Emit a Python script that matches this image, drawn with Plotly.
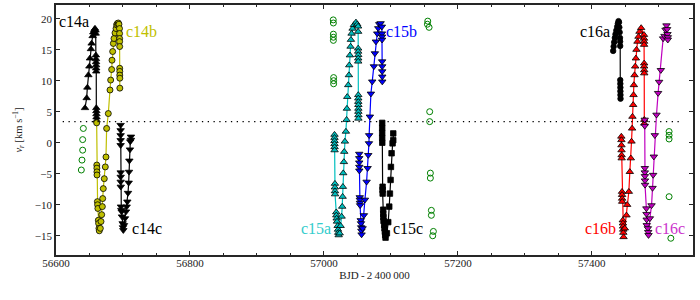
import plotly.graph_objects as go

# ---------------- data ----------------
c14a_x = [56643.3, 56645.8, 56646.8, 56648.3, 56649.8, 56650.7, 56652.2, 56653.2, 56654.7, 56655.7,
          56657.2, 56658.2, 56659.0, 56659.3, 56659.5, 56659.7, 56659.8, 56659.9, 56660.0, 56660.1,
          56660.2, 56660.3, 56660.4, 56660.5, 56660.6]
c14a_y = [5.6, 7.2, 8.9, 10.9, 12.3, 13.6, 15.1, 16.0, 17.2, 17.8,
          18.2, 18.4, 18.1, 17.6, 14.1, 13.5, 13.0, 12.5, 12.0, 11.5,
          5.6, 5.1, 4.6, 4.1, 3.6]

c14b_x = [56660.7, 56660.9, 56661.0, 56661.1, 56661.2, 56661.8, 56662.1, 56662.5, 56663.2, 56663.6,
          56664.1, 56664.6, 56666.2, 56667.2, 56668.2, 56669.2, 56669.7, 56670.6, 56672.1, 56673.6,
          56674.6, 56675.6, 56678.1, 56680.6, 56681.6, 56683.1, 56683.6, 56684.6, 56685.6, 56686.6,
          56688.1, 56689.6, 56690.5, 56691.5, 56693.0, 56694.0, 56694.8, 56694.9, 56695.0, 56695.0,
          56695.1, 56695.1, 56695.2, 56695.2, 56695.3, 56695.3]
c14b_y = [3.2, -3.6, -4.1, -4.7, -5.2, -9.5, -10.0, -10.6, -12.5, -13.0,
          -13.8, -14.2, -13.8, -12.7, -11.6, -10.3, -9.0, -7.4, -5.8, -3.9,
          -2.3, 2.3, 4.7, 8.5, 10.1, 11.8, 13.3, 14.7, 16.0, 16.8,
          17.7, 18.4, 19.0, 19.2, 19.3, 19.1, 18.4, 17.6, 16.8, 16.3,
          15.5, 12.0, 11.5, 10.9, 10.4, 8.8]

c14c_x = [56696.5, 56696.5, 56696.5, 56696.5, 56696.5, 56696.6, 56696.6, 56696.6, 56696.7, 56697.0,
          56697.5, 56698.0, 56698.5, 56699.5, 56700.0, 56700.5, 56701.5, 56703.0, 56704.5, 56705.5,
          56706.5, 56707.5, 56708.5, 56709.0, 56709.5, 56710.4, 56710.9, 56711.9, 56711.9]
c14c_y = [2.85, 2.0, 1.2, 0.4, -0.4, -4.8, -5.5, -6.3, -7.1, -10.3,
          -10.85, -11.1, -11.9, -13.0, -13.65, -14.1, -13.3, -12.2, -11.1, -10.3,
          -9.5, -8.1, -6.45, -4.7, -2.9, -1.1, 0.2, 0.45, 0.97]

c15a_x = [57015.8, 57015.8, 57015.8, 57015.8, 57015.9, 57015.9, 57016.4, 57016.4, 57016.5, 57016.6,
          57018.4, 57018.5, 57019.0, 57019.5, 57020.5, 57021.0, 57021.4, 57022.0, 57023.5, 57024.9,
          57026.4, 57027.3, 57027.9, 57028.3, 57028.8, 57029.8, 57030.3, 57031.3, 57032.8, 57033.8,
          57034.3, 57034.8, 57036.3, 57037.3, 57037.8, 57038.8, 57039.8, 57040.3, 57041.3, 57042.8,
          57044.8, 57047.8, 57049.7, 57051.0, 57051.1, 57051.1, 57051.1, 57051.2, 57051.2, 57051.2,
          57051.3, 57051.3, 57051.3, 57051.4, 57051.4, 57051.4, 57051.5, 57051.5]
c15a_y = [1.3, 0.8, 0.3, -0.2, -0.7, -1.2, -6.6, -7.2, -7.8, -8.3,
          -11.2, -11.7, -12.2, -12.7, -13.4, -14.0, -14.5, -14.9, -14.6, -13.4,
          -11.9, -10.3, -8.7, -7.1, -4.9, -3.1, -1.45, 0.2, 1.8, 3.7,
          5.5, 7.4, 9.3, 10.9, 12.5, 14.1, 15.5, 16.6, 17.6, 18.4,
          19.0, 19.4, 19.1, 18.75, 17.9, 15.2, 14.7, 14.15, 13.6, 13.1,
          7.7, 7.15, 6.6, 6.1, 5.5, 5.0, 4.45, 3.9]

c15b_x = [57052.7, 57052.7, 57052.7, 57052.8, 57052.8, 57053.5, 57053.6, 57053.8, 57054.0, 57055.0,
          57055.3, 57055.6, 57055.9, 57056.2, 57057.7, 57059.7, 57061.2, 57063.7, 57065.2, 57066.2,
          57067.2, 57067.5, 57068.6, 57070.1, 57072.1, 57074.6, 57076.1, 57077.6, 57079.6, 57081.1,
          57082.6, 57084.6, 57086.5, 57086.6, 57086.7, 57086.8, 57086.9, 57087.0, 57087.0, 57087.1,
          57087.1]
c15b_y = [-1.8, -2.5, -3.2, -3.9, -4.5, -8.8, -9.2, -9.7, -10.1, -12.5,
          -13.0, -13.65, -14.2, -14.8, -13.8, -11.7, -9.2, -6.3, -4.1, -2.0,
          -0.1, 1.2, 4.2, 7.9, 9.85, 12.3, 14.4, 16.3, 17.6, 18.45,
          19.1, 19.25, 18.7, 17.6, 17.1, 16.6, 13.1, 12.3, 11.5, 10.65,
          9.85]

c15c_x = [57087.0, 57087.0, 57087.0, 57087.0, 57087.1, 57087.6, 57087.6, 57087.7, 57088.5, 57088.6,
          57088.8, 57089.0, 57090.0, 57090.5, 57091.0, 57091.5, 57092.0, 57094.0, 57096.0, 57097.5,
          57098.5, 57099.5, 57100.0, 57101.0, 57102.5, 57103.5, 57103.5]
c15c_y = [3.2, 2.4, 1.6, 0.8, 0.0, -7.1, -7.6, -8.2, -10.8, -11.5,
          -12.0, -12.6, -13.3, -13.8, -14.35, -14.9, -15.3, -14.6, -12.8, -10.3,
          -8.2, -6.0, -3.9, -1.7, -0.1, 0.4, 1.5]

c16a_x = [57431.8, 57432.5, 57433.3, 57434.3, 57435.3, 57436.5, 57437.8, 57438.8, 57439.8, 57440.5,
          57441.0, 57441.5, 57442.0, 57442.2, 57442.3, 57442.4, 57442.5, 57442.6, 57442.6, 57442.7,
          57442.8]
c16a_y = [14.8, 15.5, 16.2, 16.9, 17.5, 18.1, 18.7, 19.2, 19.6, 19.4,
          18.6, 17.8, 16.9, 16.3, 15.6, 10.1, 9.5, 8.9, 8.3, 7.7,
          7.1]

c16b_x = [57444.0, 57444.1, 57444.2, 57444.3, 57444.4, 57444.5, 57445.0, 57445.1, 57445.2, 57445.3,
          57446.2, 57446.4, 57446.6, 57446.8, 57447.0, 57447.3, 57449.2, 57451.7, 57452.7, 57455.2,
          57456.7, 57458.2, 57459.2, 57460.1, 57460.6, 57461.7, 57462.2, 57462.7, 57463.7, 57464.7,
          57465.7, 57466.6, 57468.1, 57469.6, 57471.1, 57473.6, 57477.8, 57477.9, 57478.0, 57478.0,
          57478.1, 57478.1, 57478.2, 57478.2, 57478.3, 57478.3]
c16b_y = [1.0, 0.44, -0.4, -1.2, -2.0, -2.5, -7.9, -8.4, -9.0, -9.5,
          -12.5, -13.0, -13.5, -14.0, -14.5, -15.2, -13.8, -11.7, -10.0, -7.9,
          -4.7, -2.5, 0.2, 2.3, 4.2, 6.1, 7.7, 9.3, 10.9, 12.3,
          13.6, 15.0, 16.3, 17.1, 17.9, 18.5, 17.4, 16.8, 16.3, 15.8,
          12.8, 12.3, 11.7, 11.2, 3.7, 3.1]

c16c_x = [57478.9, 57479.0, 57479.1, 57479.1, 57479.2, 57479.3, 57479.4, 57481.4, 57481.6, 57481.8,
          57482.0, 57483.6, 57484.1, 57484.6, 57486.6, 57489.1, 57490.6, 57491.5, 57492.5, 57494.0,
          57496.5, 57498.9, 57500.4, 57503.0, 57506.4, 57508.5, 57510.0, 57511.4, 57512.4, 57512.9,
          57513.4, 57513.4]
c16c_y = [3.7, 2.7, -4.1, -4.8, -5.4, -6.1, -6.8, -10.6, -11.5, -12.4,
          -13.3, -13.8, -14.4, -14.9, -12.2, -10.1, -7.3, -5.2, -2.25, 1.2,
          4.5, 8.0, 9.8, 11.7, 16.8, 17.2, 18.2, 18.9, 18.3, 17.5,
          17.0, 16.6]

other_x = [56640.8, 56639.8, 56639.8, 56638.8, 56637.8,
           57013.9, 57014.1, 57014.1, 57014.1, 57014.1, 57014.5, 57014.5, 57014.5,
           57155.0, 57154.5, 57157.0, 57157.9, 57157.9, 57158.9, 57158.9, 57160.4, 57160.4,
           57163.4, 57162.4,
           57515.3, 57515.3, 57515.3, 57515.3, 57517.9]
other_y = [2.3, 0.5, -1.2, -2.8, -4.4,
           19.8, 19.3, 17.5, 17.0, 16.5, 10.5, 10.0, 9.5,
           19.6, 19.1, 18.6, 5.0, 3.4, -4.9, -5.7, -10.9, -11.7,
           -14.3, -15.0,
           1.8, 1.2, 0.6, -8.7, -15.4]

gamma = 3.4
gamma_span = [56610, 57530]

label_text = ["c14a", "c14b", "c14c", "c15a", "c15b", "c15c", "c16a", "c16b", "c16c"]
label_x = [56627.6, 56726.9, 56735.3, 56987.5, 57115.9, 57125.9, 57404.5, 57413.4, 57517.4]
label_y = [19.6, 17.9, -13.8, -13.8, 17.9, -13.8, 17.9, -13.8, -13.8]

x_ticks = [56600, 56800, 57000, 57200, 57400]
y_ticks = [-15, -10, -5, 0, 5, 10, 15, 20]

# ---------------- styles ----------------
YEL = "#bfbf00"
CYA = "#00bfbf"
BLU = "#0000ff"
RED = "#ff0000"
MAG = "#bf00bf"
GRN = "#008000"
FONT = "Liberation Serif"

series = [
    (c14a_x, c14a_y, "triangle-up", "black", "black", 6.5),
    (c14b_x, c14b_y, "circle", YEL, YEL, 6),
    (c14c_x, c14c_y, "triangle-down", "black", "black", 6.5),
    (c15a_x, c15a_y, "triangle-up", CYA, CYA, 6.5),
    (c15b_x, c15b_y, "triangle-down", BLU, BLU, 6.5),
    (c15c_x, c15c_y, "square", "black", "black", 5.5),
    (c16a_x, c16a_y, "circle", "black", "black", 5.5),
    (c16b_x, c16b_y, "triangle-up", RED, RED, 6.5),
    (c16c_x, c16c_y, "triangle-down", MAG, MAG, 6.5),
]
label_colors = ["black", YEL, "black", "#33cccc", BLU, "black", "black", RED, "#cc33cc"]

fig = go.Figure()

fig.add_trace(go.Scatter(
    x=other_x, y=other_y, mode="markers",
    marker=dict(symbol="circle-open", size=6, color=GRN, line=dict(width=1, color=GRN)),
    showlegend=False, hoverinfo="skip"))

for xs, ys, sym, fill, lc, sz in series:
    assert len(xs) == len(ys)
    fig.add_trace(go.Scatter(
        x=xs, y=ys, mode="lines+markers",
        line=dict(color=lc, width=1.2),
        marker=dict(symbol=sym, size=sz, color=fill, line=dict(width=0.8, color="black")),
        showlegend=False, hoverinfo="skip"))

fig.add_trace(go.Scatter(
    x=gamma_span, y=[gamma, gamma], mode="lines",
    line=dict(color="black", width=1.3, dash="1.3px,4.5px"),
    showlegend=False, hoverinfo="skip"))

for t, x, y, c in zip(label_text, label_x, label_y, label_colors):
    fig.add_annotation(x=x, y=y, text=t, showarrow=False, xanchor="center", yanchor="middle",
                       font=dict(family=FONT, size=16, color=c))

axis_common = dict(showline=True, mirror="ticks", linecolor="#262626", linewidth=1.6,
                   ticks="inside", tickcolor="#262626", tickwidth=1, ticklen=4,
                   showgrid=False, zeroline=False, automargin=False,
                   tickfont=dict(family=FONT, size=11, color="#222"))

fig.update_xaxes(range=[56600, 57551], tickvals=x_ticks,
                 ticktext=[str(v) for v in x_ticks],
                 ticklabelstandoff=-3,
                 minor=dict(dtick=50, tick0=56600, ticks="inside", ticklen=2.5,
                            tickcolor="#262626", tickwidth=1),
                 title=dict(text="BJD\u2009-\u20092\u2009400\u2009000",
                            font=dict(family=FONT, size=11, color="#222"), standoff=3),
                 **axis_common)
fig.update_yaxes(range=[-18.1, 22.2], tickvals=y_ticks,
                 title=dict(text="<i>v</i><sub><i>r</i></sub> [km s<sup>\u22121</sup>]",
                            font=dict(family=FONT, size=10.5, color="#222"), standoff=10),
                 **axis_common)

fig.update_layout(width=700, height=300, margin=dict(l=56, r=7, t=5, b=45),
                  plot_bgcolor="white", paper_bgcolor="white")

fig.write_html("out.html", config={"displayModeBar": False},
               post_script="document.body.style.margin='0px';")
